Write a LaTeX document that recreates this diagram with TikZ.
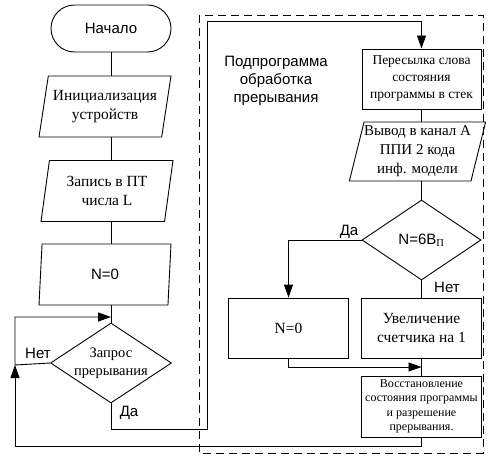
\documentclass[tikz,border=0pt]{standalone}
\usepackage{fontspec}
\setmainfont{Liberation Serif}
\setsansfont{Liberation Sans}
\usetikzlibrary{arrows.meta,shapes.geometric}

\begin{document}
\begin{tikzpicture}[
    x=1pt, y=-1pt,
    every node/.style={align=center, inner sep=0pt},
    sfont/.style={font=\sffamily\fontsize{15}{18}\selectfont},
    rmfont/.style={font=\fontsize{15.5}{19}\selectfont},
    base/.style={draw=black, line width=0.9pt},
    term/.style={base, sfont, rectangle, rounded corners=23.5pt,
      minimum width=120pt, minimum height=47pt},
    io/.style={base, trapezium, trapezium left angle=74, trapezium right angle=106,
      trapezium stretches body, minimum width=132pt, minimum height=61pt},
    proc/.style={base, rectangle, minimum width=120pt, minimum height=60pt},
    cond/.style={base, diamond, shape aspect=1.5, minimum width=121pt, minimum height=80pt},
    frame/.style={line width=0.9pt, dash pattern=on 8pt off 5pt},
    line/.style={line width=0.9pt},
    flow/.style={line width=0.9pt, -{Triangle[length=13pt, width=9pt]}}
  ]
    \useasboundingbox (0,0) rectangle (489,460);

    % main program
    \node[term] (start) at (111,28.5) {Начало};
    \node[io, rmfont] (init) at (105,106.5) {Инициализация\\устройств};
    \node[io, rmfont] (wrpt) at (107,191) {Запись в ПТ\\числа L};
    \node[io, sfont] (nzero) at (105,274.5) {N=0};
    \node[cond, font=\fontsize{14.5}{18}\selectfont] (ask) at (111,363) {Запрос\\прерывания};

    % interrupt routine
    \draw[frame] (199,15) rectangle (483,453);
    \node[sfont] (title) at (276,81) {Подпрограмма\\обработка\\прерывания};
    \node[proc, minimum width=119pt, font=\fontsize{13.5}{17}\selectfont] (push) at (421.5,79)
      {Пересылка слова\\состояния\\программы в стек};
    \node[io, minimum width=135pt, minimum height=59pt, font=\fontsize{15}{19}\selectfont] (outa)
      at (417.5,151.5) {Вывод в канал А\\ППИ 2 кода\\инф. модели};
    \node[cond, minimum width=119pt, sfont] (cmp) at (421.5,240) {N=6B\textsubscript{\rmfamily П}};
    \node[proc, rmfont] (zero) at (288.5,328) {N=0};
    \node[proc, rmfont] (inc) at (421.5,328) {Увеличение\\счетчика на 1};
    \node[proc, minimum height=61pt, font=\fontsize{12}{14.5}\selectfont] (restore) at (421.5,406.5)
      {Восстановление\\состояния программы\\и разрешение\\прерывания.};

    % labels
    \node[sfont] (lno) at (38,353) {Нет};
    \node[sfont] (lyes) at (129,413) {Да};
    \node[sfont] (ryes) at (349,232) {Да};
    \node[sfont] (rno) at (447,287) {Нет};

    % junctions
    \coordinate (lnet) at (15,365);
    \coordinate (ltop) at (15,317);
    \coordinate (jin) at (111,317);
    \coordinate (back) at (15,446);
    \coordinate (yesb) at (207,429);
    \coordinate (yest) at (207,21);
    \coordinate (merge) at (421.5,367);

    \draw[line] (start.south) -- (start.south |- init.north);
    \draw[line] (start.south |- init.south) -- (start.south |- wrpt.north);
    \draw[line] (start.south |- wrpt.south) -- (start.south |- nzero.north);
    \draw[line] (start.south |- nzero.south) -- (ask.north);
    \draw[flow] (ask.west) -- (lnet) -- (ltop) -- (jin);
    \draw[flow] (ask.south) |- (yesb) -- (yest) -| (push.north);
    \draw[line] (push.south) -- (push.south |- outa.north);
    \draw[line] (cmp.north |- outa.south) -- (cmp.north);
    \draw[flow] (cmp.west) -| (zero.north);
    \draw[line] (cmp.south) -- (inc.north);
    \draw[line] (inc.south) -- (restore.north);
    \draw[flow] (zero.south) |- (merge);
    \draw[flow] (restore.south) |- (back) -- (lnet);
  \end{tikzpicture}
\end{document}
